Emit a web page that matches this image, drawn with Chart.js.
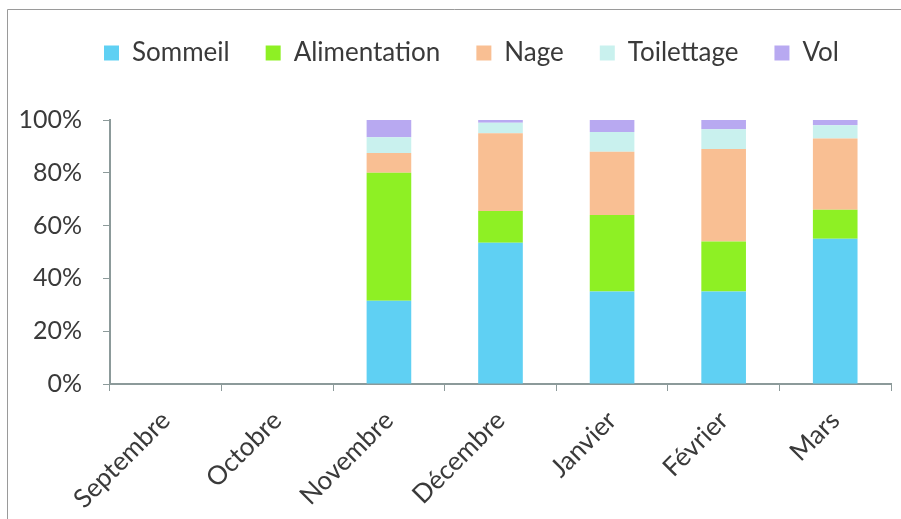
<!DOCTYPE html>
<html>
<head>
<meta charset="utf-8">
<script src="https://cdn.jsdelivr.net/npm/chart.js@4/dist/chart.umd.min.js"></script>
<style>
  html, body { margin: 0; padding: 0; background: #ffffff; }
  #wrap { position: relative; width: 901px; height: 519px; }
  canvas { display: block; }
</style>
</head>
<body>
<div id="wrap"><canvas id="c" width="901" height="519"></canvas></div>
<script>
const categories = ["Septembre", "Octobre", "Novembre", "Décembre", "Janvier", "Février", "Mars"];
const sommeil      = [null, null, 31.5, 53.5, 35.0, 35.0, 55.0];
const alimentation = [null, null, 48.5, 12.0, 29.0, 19.0, 11.0];
const nage         = [null, null,  7.5, 29.5, 24.0, 35.0, 27.0];
const toilettage   = [null, null,  6.0,  4.0,  7.5,  7.5,  5.0];
const vol          = [null, null,  6.5,  1.0,  4.5,  3.5,  2.0];
const yTicks = [0, 20, 40, 60, 80, 100];

const axisColor = '#8c9a9a';
const textColor = '#3a3a3a';

const frame = {
  id: 'frame',
  beforeInit(chart) {
    const lg = chart.legend;
    if (lg) {
      const origFit = lg.fit.bind(lg);
      lg.fit = function () { origFit(); this.height += 44; };
    }
  },
  afterLayout(chart) {
    const lg = chart.legend;
    if (lg) { lg.left += 26; lg.right += 26; }
  },
  beforeDraw(chart) {
    const ctx = chart.ctx;
    ctx.save();
    ctx.strokeStyle = '#9a9a9a';
    ctx.lineWidth = 1;
    ctx.beginPath();
    ctx.moveTo(7.5, 519);
    ctx.lineTo(7.5, 9.5);
    ctx.lineTo(901, 9.5);
    ctx.stroke();
    ctx.restore();
  }
};

new Chart(document.getElementById('c'), {
  type: 'bar',
  data: {
    labels: categories,
    datasets: [
      { label: 'Sommeil', data: sommeil, backgroundColor: '#5fd0f3' },
      { label: 'Alimentation', data: alimentation, backgroundColor: '#8ef024' },
      { label: 'Nage', data: nage, backgroundColor: '#f9bf93' },
      { label: 'Toilettage', data: toilettage, backgroundColor: '#c9f1ee' },
      { label: 'Vol', data: vol, backgroundColor: '#b8a9f1' }
    ]
  },
  options: {
    responsive: false,
    animation: false,
    devicePixelRatio: 1,
    layout: { padding: { top: 4, left: 0, right: 10, bottom: 0 } },
    datasets: { bar: { categoryPercentage: 1, barPercentage: 0.4 } },
    plugins: {
      tooltip: { enabled: false },
      legend: {
        position: 'top',
        labels: {
          font: { family: 'Lato', size: 26 },
          color: textColor,
          boxWidth: 15,
          boxHeight: 15,
          padding: 36
        }
      }
    },
    scales: {
      x: {
        stacked: true,
        afterFit(scale) { scale.height = 135; },
        grid: { display: true, drawOnChartArea: false, drawTicks: true, tickLength: 7, color: axisColor, offset: true },
        border: { color: axisColor, width: 2 },
        ticks: {
          font: { family: 'Lato', size: 26 },
          color: textColor,
          maxRotation: 45,
          minRotation: 45,
          padding: 14
        }
      },
      y: {
        stacked: true,
        min: 0,
        max: 100,
        afterFit(scale) { scale.width = 110; },
        afterBuildTicks(scale) { scale.ticks = yTicks.map(v => ({ value: v })); },
        grid: { display: true, drawOnChartArea: false, drawTicks: true, tickLength: 7, color: axisColor },
        border: { color: axisColor, width: 2 },
        ticks: {
          font: { family: 'Lato', size: 25 },
          color: textColor,
          padding: 21,
          callback: v => v + '%'
        }
      }
    }
  },
  plugins: [frame]
});
</script>
</body>
</html>
